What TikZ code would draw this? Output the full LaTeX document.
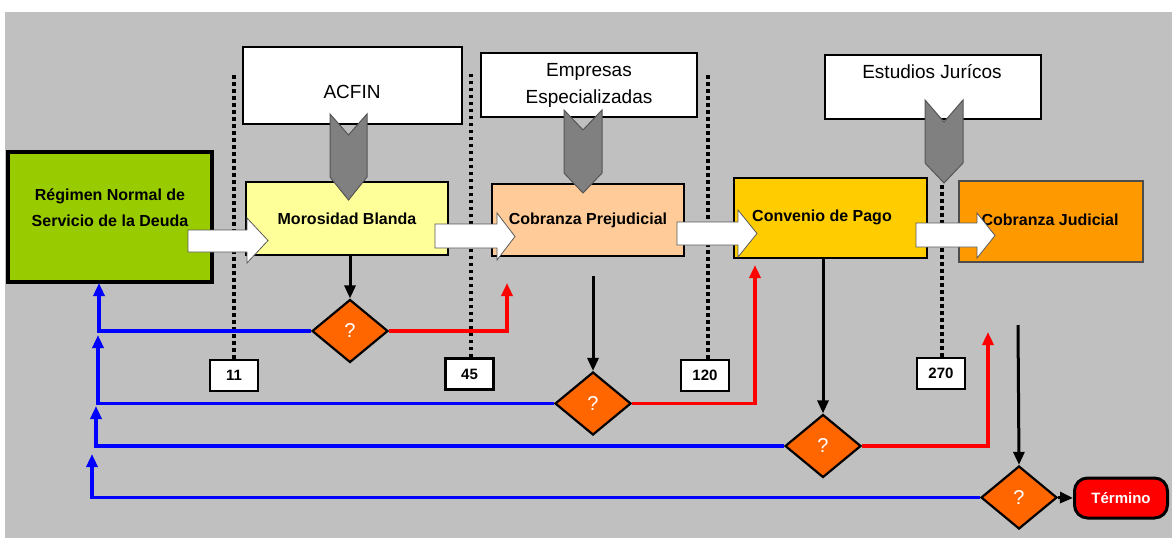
\documentclass[tikz,border=0pt]{standalone}
\usepackage{fontspec}
\setmainfont{Liberation Sans}
\usetikzlibrary{shapes.geometric,arrows.meta}
\definecolor{bggray}{HTML}{C0C0C0}
\definecolor{cgreen}{HTML}{99CC00}
\definecolor{cyellow}{HTML}{FFFF99}
\definecolor{cpeach}{HTML}{FFCC99}
\definecolor{cgold}{HTML}{FFCC00}
\definecolor{corange}{HTML}{FF9900}
\definecolor{dorange}{HTML}{FF6600}
\definecolor{chevgray}{HTML}{808080}
\definecolor{chevedge}{HTML}{555555}
\begin{document}
\begin{tikzpicture}[x=1pt,y=-1pt,
  proc/.style={draw=black,line width=2.5pt,inner sep=0pt,font=\fontsize{16}{19}\selectfont\bfseries,align=center},
  proctext/.style={inner sep=0pt,font=\fontsize{16}{19}\selectfont\bfseries,align=center},
  org/.style={draw=black,line width=2.5pt,fill=white,inner sep=0pt},
  orgtext/.style={font=\fontsize{19}{27}\selectfont,align=center,inner sep=0pt},
  numbox/.style={draw=black,line width=2.2pt,fill=white,minimum width=48pt,minimum height=31pt,inner sep=0pt,font=\fontsize{15}{15}\selectfont\bfseries},
  decision/.style={diamond,minimum width=76pt,minimum height=63pt,draw=black,line width=2.2pt,fill=dorange,inner sep=0pt,text=white,font=\fontsize{20}{20}\selectfont},
  dotline/.style={line width=3.5pt,dash pattern=on 3.5pt off 3.5pt},
  chev/.style={fill=chevgray,draw=chevedge,line width=1pt},
  blockarrow/.style={fill=white,draw=gray!70!black,line width=0.8pt},
  yesline/.style={red,line width=3.5pt,-{Triangle[length=13pt,width=11pt]}},
  noline/.style={blue,line width=3.5pt,-{Triangle[length=13pt,width=11pt]}},
  flow/.style={black,line width=3pt,-{Triangle[length=13pt,width=11pt]}},
]
\useasboundingbox (0,0) rectangle (1172,538);
\fill[white] (0,0) rectangle (1172,538);
\fill[bggray] (5,12) rectangle (1172,538);

% number boxes and dotted lines
\node[numbox] (n11) at (234,375.5) {11};
\node[numbox] (n45) at (469.5,374) {45};
\node[numbox] (n120) at (705,375.5) {120};
\node[numbox] (n270) at (941,373.5) {270};
\draw[dotline] (n11.north) -- (234,75);
\draw[dotline] (n45.north -| 471,0) -- (471,72);
\draw[dotline] (n120.north -| 708,0) -- (708,72);
\draw[dotline] (n270.north -| 942,0) -- (942,183);

% organisation boxes
\node[org,minimum width=219pt,minimum height=77pt] (acfin) at (352.5,85.5) {};
\node[orgtext] (acfint) at (352,92) {ACFIN};
\node[org,minimum width=216pt,minimum height=64pt] (emp) at (589,85) {};
\node[orgtext] (empt) at (589,85.5) {Empresas\\Especializadas};
\node[org,minimum width=216pt,minimum height=64pt] (est) at (933,87) {};
\node[orgtext] (estt) at (932,72) {Estudios Jurícos};

% process boxes
\node[proc,fill=cgreen,line width=3.5pt,minimum width=204pt,minimum height=130pt] (reg) at (110,217) {};
\node[proctext,font=\fontsize{16}{26}\selectfont\bfseries] (regt) at (110,208) {Régimen Normal de\\Servicio de la Deuda};
\node[proc,fill=cyellow,minimum width=202pt,minimum height=73pt] (mb) at (347,218.5) {Morosidad Blanda};
\node[proc,fill=cpeach,minimum width=192pt,minimum height=72pt] (cp) at (588,220) {Cobranza Prejudicial};
\node[proc,fill=cgold,line width=1.5pt,minimum width=193pt,minimum height=80pt] (cv) at (830.5,218) {};
\node[proctext] (cvt) at (822,217) {Convenio de Pago};
\node[proc,fill=corange,line width=1.5pt,draw=black!70,minimum width=184pt,minimum height=81pt] (cj) at (1051,221.5) {};
\node[proctext] (cjt) at (1050,220) {Cobranza Judicial};

% chevrons
\draw[chev] (330,114) -- (348.5,135) -- (367,114) -- (367,177) -- (348.5,200) -- (330,177) -- cycle;
\draw[chev] (564,110) -- (583,130) -- (602,110) -- (602,173) -- (583,193) -- (564,173) -- cycle;
\draw[chev] (925,100) -- (944,122) -- (963,100) -- (963,163) -- (944,183) -- (925,163) -- cycle;

% white block arrows
\draw[blockarrow] (188,230) -- (247,230) -- (247,218) -- (268,240.5) -- (247,263) -- (247,252) -- (188,252) -- cycle;
\draw[blockarrow] (435,224) -- (497,224) -- (497,213) -- (515,236.5) -- (497,260) -- (497,248) -- (435,248) -- cycle;
\draw[blockarrow] (677,222) -- (738,222) -- (738,210) -- (757,233.5) -- (738,257) -- (738,245) -- (677,245) -- cycle;
\draw[blockarrow] (916,223) -- (977,223) -- (977,213) -- (995,235.5) -- (977,258) -- (977,247) -- (916,247) -- cycle;

% decisions
\node[decision] (d1) at (350,331) {?};
\node[decision] (d2) at (593,403.5) {?};
\node[decision] (d3) at (823,446) {?};
\node[decision] (d4) at (1019,497.5) {?};
\node[draw=black,line width=3pt,fill=red,rounded corners=13pt,minimum width=93pt,minimum height=40pt,inner sep=0pt,text=white,font=\fontsize{15}{15}\selectfont\bfseries] (term) at (1121,498) {Término};

% black flow arrows
\coordinate (k2) at (593,276);
\coordinate (k4) at (1018,325);
\draw[flow] (d1.north |- mb.south) -- (d1.north);
\draw[flow] (k2) -- (d2.north);
\draw[flow] (d3.north |- cv.south) -- (d3.north);
\draw[flow] (k4) -- (d4.north);
\draw[flow] (d4.east) -- (term.west);

% red (advance) arrows
\coordinate (r1) at (507,283);
\coordinate (r2) at (755,265);
\coordinate (r3) at (988,332);
\draw[yesline] (d1.east) -| (r1);
\draw[yesline] (d2.east) -| (r2);
\draw[yesline] (d3.east) -| (r3);

% blue (return) arrows
\coordinate (b1) at (99,283);
\coordinate (b2) at (98,335);
\coordinate (b3) at (96,406);
\coordinate (b4) at (92,454);
\draw[noline] (d1.west) -| (b1);
\draw[noline] (d2.west) -| (b2);
\draw[noline] (d3.west) -| (b3);
\draw[noline] (d4.west) -| (b4);
\end{tikzpicture}
\end{document}
